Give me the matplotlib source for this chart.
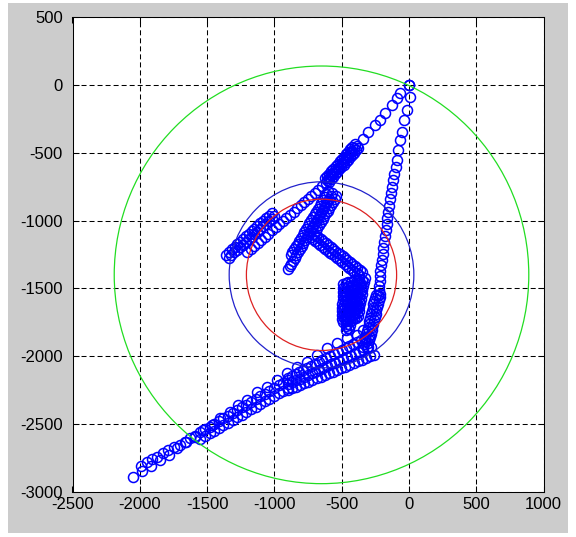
import matplotlib
matplotlib.use('Agg')
import matplotlib.pyplot as plt
from matplotlib.patches import Circle, Rectangle

# track segments, in data units
a_x = [0, -67, -91, -129, -178, -215, -253, -302, -344]
a_y = [0, -61, -98, -147, -209, -258, -295, -344, -401]

b0_x = [-390, -406, -422, -437, -453, -469, -484, -500, -516, -531, -547, -563, -578, -594, -610]
b0_y = [-450, -468, -486, -504, -522, -540, -558, -576, -594, -611, -629, -647, -665, -683, -700]
b1_x = [-376, -392, -408, -423, -439, -455, -470, -486, -502, -517, -533, -549, -564, -580, -596]
b1_y = [-462, -480, -498, -516, -534, -552, -570, -588, -606, -623, -641, -659, -677, -695, -712]
b2_x = [-404, -420, -436, -451, -467, -483, -498, -514, -530, -545, -561, -577, -592, -608, -624]
b2_y = [-438, -456, -474, -492, -510, -528, -546, -564, -582, -599, -617, -635, -653, -671, -688]

c_x = [-620, -646, -673, -699, -726, -752, -779, -805, -832, -858, -885, -911, -938, -964, -991,
       -1017, -1044, -1070, -1097, -1123, -1150, -1176, -1203]
c_y = [-725, -748, -771, -794, -818, -841, -864, -887, -910, -933, -957, -980, -1003, -1026, -1049,
       -1072, -1096, -1119, -1142, -1165, -1188, -1211, -1235]

d1_x = [-1000, -1021, -1042, -1064, -1085, -1106, -1128, -1149, -1170, -1191, -1213, -1234, -1255, -1276, -1298, -1319, -1340]
d1_y = [-966, -985, -1004, -1024, -1043, -1062, -1081, -1100, -1120, -1139, -1158, -1177, -1196, -1216, -1235, -1254, -1273]
d2_x = [-1020, -1041, -1062, -1084, -1105, -1126, -1148, -1169, -1190, -1211, -1233, -1254, -1275, -1296, -1318, -1339, -1360]
d2_y = [-944, -963, -982, -1002, -1021, -1040, -1059, -1078, -1098, -1117, -1136, -1155, -1174, -1194, -1213, -1232, -1251]

e0_x = [-570, -583, -595, -608, -621, -633, -646, -659, -672, -684, -697, -710, -722, -735, -748, -760,
        -773, -786, -798, -811, -824, -837, -849, -862, -875, -887, -900]
e0_y = [-800, -822, -843, -865, -886, -908, -929, -951, -972, -994, -1015, -1037, -1058, -1080, -1102, -1123,
        -1145, -1166, -1188, -1209, -1231, -1252, -1274, -1295, -1317, -1338, -1360]
e1_x = [-540, -553, -565, -578, -591, -603, -616, -629, -642, -654, -667, -680, -692, -705]
e1_y = [-818, -840, -861, -883, -904, -926, -947, -969, -990, -1012, -1033, -1055, -1076, -1098]
e2_x = [-600, -613, -625, -638, -651, -663, -676, -689, -702, -714, -727, -740, -752, -765, -778, -790,
        -803, -816, -828, -841, -854, -867, -879]
e2_y = [-782, -804, -825, -847, -868, -890, -911, -933, -954, -976, -997, -1019, -1040, -1062, -1084, -1105,
        -1127, -1148, -1170, -1191, -1213, -1234, -1256]

f1_x = [-731, -713, -695, -677, -659, -641, -623, -605, -587, -569, -551, -533, -515, -497, -479, -461,
        -443, -425, -407, -389, -371]
f1_y = [-1124, -1138, -1152, -1166, -1180, -1194, -1208, -1222, -1236, -1250, -1264, -1278, -1292, -1306,
        -1320, -1334, -1348, -1362, -1376, -1390, -1404]
f2_x = [-709, -691, -673, -655, -637, -619, -601, -583, -565, -547, -529, -511, -493, -475, -457, -439,
        -421, -403, -385, -367, -349]
f2_y = [-1096, -1110, -1124, -1138, -1152, -1166, -1180, -1194, -1208, -1222, -1236, -1250, -1264, -1278,
        -1292, -1306, -1320, -1334, -1348, -1362, -1376]

# the dense blob below the X
g1_x = [-330, -336, -341, -347, -352, -358, -363, -369, -374, -380]
g1_y = [-1420, -1451, -1482, -1513, -1544, -1576, -1607, -1638, -1669, -1700]
g2_x = [-370, -374, -379, -383, -388, -392, -397, -401, -406, -410]
g2_y = [-1430, -1462, -1494, -1526, -1558, -1590, -1622, -1654, -1686, -1718]
g3_x = [-410, -413, -417, -420, -423, -427, -430, -433, -437, -440]
g3_y = [-1440, -1473, -1506, -1539, -1572, -1606, -1639, -1672, -1705, -1738]
g4_x = [-450, -452, -454, -457, -459, -461, -463, -466, -468, -470]
g4_y = [-1450, -1482, -1514, -1546, -1578, -1610, -1642, -1674, -1706, -1740]
g5_x = [-490, -491, -492, -493, -494, -496, -497, -498, -499, -500]
g5_y = [-1470, -1498, -1527, -1556, -1584, -1613, -1642, -1670, -1699, -1728]
g6_x = [-350, -355, -360, -365, -370, -375, -380, -385, -390, -395]
g6_y = [-1436, -1467, -1498, -1529, -1560, -1591, -1622, -1653, -1684, -1715]
g7_x = [-390, -394, -398, -402, -406, -410, -414, -418, -422, -426]
g7_y = [-1446, -1478, -1510, -1542, -1574, -1606, -1638, -1670, -1702, -1734]
g8_x = [-430, -433, -436, -439, -442, -445, -448, -451, -454, -457]
g8_y = [-1456, -1488, -1520, -1552, -1584, -1616, -1648, -1680, -1712, -1744]
g9_x = [-470, -472, -474, -476, -478, -480, -482, -484, -486, -488]
g9_y = [-1462, -1494, -1526, -1558, -1590, -1622, -1654, -1686, -1718, -1750]
g10_x = [-440, -450, -460, -470, -445, -465]
g10_y = [-1770, -1790, -1760, -1780, -1800, -1805]

h_x = [0, 7, -17, -37, -54, -67, -80, -91, -100, -109, -117, -125, -133, -141, -146, -153,
       -161, -166, -171, -178, -186, -190, -195, -202, -210, -213, -215, -218, -220, -224, -228]
h_y = [0, -86, -184, -258, -344, -406, -479, -553, -605, -655, -700, -750, -795, -840, -890, -935,
       -980, -1025, -1070, -1115, -1160, -1205, -1250, -1290, -1330, -1370, -1410, -1445, -1480, -1515, -1550]

i1_x = [-212, -218, -224, -230, -236, -242, -248, -254, -260, -266, -272, -278, -284, -290, -296, -302, -308]
i1_y = [-1540, -1564, -1589, -1613, -1638, -1662, -1686, -1711, -1735, -1760, -1784, -1808, -1833, -1857,
        -1882, -1906, -1930]
i2_x = [-246, -252, -258, -264, -270, -276, -282, -288, -294, -300, -306, -312, -318, -324, -330, -336, -342]
i2_y = [-1545, -1569, -1594, -1618, -1643, -1667, -1691, -1716, -1740, -1765, -1789, -1813, -1838, -1862,
        -1887, -1911, -1935]

j1_x = [-300, -329, -357, -386, -414, -443, -471, -500, -529, -557, -586, -614, -643, -671, -700, -729,
        -757, -786, -814, -843, -871, -900]
j1_y = [-1850, -1865, -1880, -1895, -1909, -1924, -1939, -1953, -1968, -1983, -1998, -2012, -2027, -2042,
        -2057, -2071, -2086, -2101, -2115, -2130, -2145, -2160]
j2_x = [-285, -314, -343, -372, -402, -431, -460, -490, -519, -548, -578, -607, -636, -666, -695, -724,
        -754, -783, -812, -842, -871, -900]
j2_y = [-1930, -1943, -1956, -1969, -1982, -1995, -2008, -2021, -2034, -2047, -2060, -2074, -2087, -2100,
        -2113, -2126, -2139, -2152, -2165, -2178, -2191, -2205]
j3_x = [-260, -290, -321, -351, -382, -412, -443, -473, -504, -534, -565, -595, -626, -656, -687, -717,
        -748, -778, -809, -839, -870, -900]
j3_y = [-1990, -2002, -2015, -2027, -2039, -2052, -2064, -2076, -2089, -2101, -2113, -2126, -2138, -2150,
        -2163, -2175, -2187, -2200, -2212, -2224, -2237, -2250]

k_x = [-900, -934, -968, -1003, -1037, -1071, -1105, -1139, -1174, -1208, -1242, -1276, -1311, -1345,
       -1379, -1413, -1447, -1482, -1516, -1550]
k1_y = [-2175, -2195, -2216, -2236, -2256, -2276, -2297, -2317, -2337, -2357, -2378, -2398, -2418, -2438,
        -2459, -2479, -2499, -2519, -2540, -2560]
k2_y = [-2235, -2255, -2274, -2294, -2314, -2334, -2353, -2373, -2393, -2412, -2432, -2452, -2472, -2491,
        -2511, -2531, -2551, -2570, -2590, -2610]

s_x = [-340, -389, -463, -537, -611, -686, -760, -834, -909, -983, -1057, -1131, -1206, -1268, -1330,
       -1404, -1466, -1528, -1590, -1655, -1720, -1785, -1850, -1915, -1980, -2048]
s_y = [-1810, -1844, -1868, -1905, -1942, -1991, -2041, -2077, -2126, -2175, -2225, -2262, -2323, -2360,
       -2409, -2458, -2507, -2544, -2594, -2635, -2680, -2725, -2765, -2810, -2850, -2889]

t_x = [-1590, -1627, -1665, -1701, -1745, -1788, -1830, -1875, -1910, -1949, -1990]
t_y = [-2585, -2606, -2630, -2655, -2672, -2692, -2715, -2741, -2760, -2778, -2810]

tracks = [(a_x, a_y), (b0_x, b0_y), (b1_x, b1_y), (b2_x, b2_y), (c_x, c_y), (d1_x, d1_y), (d2_x, d2_y),
          (e0_x, e0_y), (e1_x, e1_y), (e2_x, e2_y), (f1_x, f1_y), (f2_x, f2_y),
          (g1_x, g1_y), (g2_x, g2_y), (g3_x, g3_y), (g4_x, g4_y), (g5_x, g5_y),
          (g6_x, g6_y), (g7_x, g7_y), (g8_x, g8_y), (g9_x, g9_y), (g10_x, g10_y),
          (h_x, h_y), (i1_x, i1_y), (i2_x, i2_y), (j1_x, j1_y), (j2_x, j2_y), (j3_x, j3_y),
          (k_x, k1_y), (k_x, k2_y), (s_x, s_y), (t_x, t_y)]

# reference rings
ring_center = (-650, -1400)
ring_radius = [1540, 686, 558]
ring_color = ['#22dd22', '#2222cc', '#dd2222']

plt.rcParams['font.family'] = ['Liberation Sans', 'DejaVu Sans']
plt.rcParams['axes.unicode_minus'] = False

W, H = 576, 537
fig = plt.figure(figsize=(W / 100, H / 100), dpi=100, facecolor='white')
fig.patches.append(Rectangle((8 / W, 4 / H), 560 / W, 530 / H, transform=fig.transFigure,
                             facecolor='#cccccc', edgecolor='none', zorder=-10))

ax = fig.add_axes([72.5 / W, (H - 491.8) / H, 471.1 / W, 474.6 / H])
ax.set_facecolor('white')

for tx, ty in tracks:
    ax.plot(tx, ty, 'o', ms=7.2, mfc='none', mec='blue', mew=1.1, zorder=2)

for r, col in zip(ring_radius, ring_color):
    ax.add_patch(Circle(ring_center, r, fill=False, ec=col, lw=0.9, zorder=3))

ax.set_xlim(-2500, 1000)
ax.set_ylim(-3000, 500)
ax.set_xticks(range(-2500, 1001, 500))
ax.set_yticks(range(-3000, 501, 500))
ax.grid(True, color='black', linestyle=(0, (4.8, 2.9)), linewidth=0.75)
ax.tick_params(direction='in', length=4, width=0.75, labelsize=12, top=True, right=True)
ax.tick_params(axis='x', pad=4)
ax.tick_params(axis='y', pad=7)
for sp in ax.spines.values():
    sp.set_linewidth(0.75)
    sp.set_color('black')

fig.savefig('out.png', dpi=100)
